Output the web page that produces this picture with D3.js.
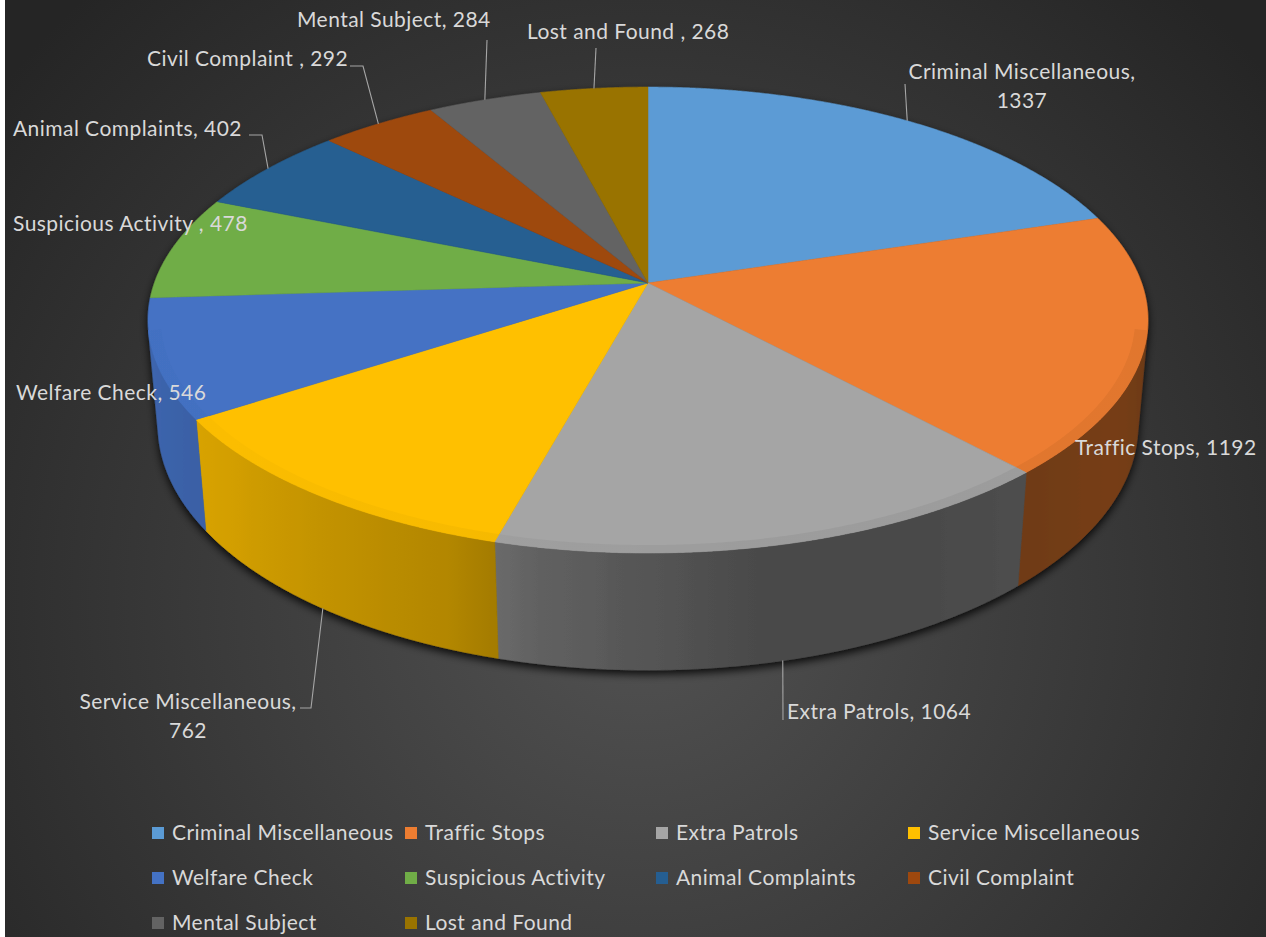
<!DOCTYPE html>
<html><head><meta charset="utf-8">
<script src="https://cdn.jsdelivr.net/npm/d3@7"></script>
<style>html,body{margin:0;padding:0;background:#fff;overflow:hidden}</style>
</head><body><svg id="c" width="1266" height="937"></svg>
<script>
// ---- data ----
const categories = ["Criminal Miscellaneous","Traffic Stops","Extra Patrols","Service Miscellaneous","Welfare Check","Suspicious Activity ","Animal Complaints","Civil Complaint ","Mental Subject","Lost and Found "];
const values = [1337,1192,1064,762,546,478,402,292,284,268];
const colors = ["#5B9BD5","#ED7D31","#A5A5A5","#FFC000","#4472C4","#70AD47","#255E91","#9E480E","#636363","#997300"];

// ---- layout ----
const W = 1266, H = 937;
const FONT = "Lato, 'Open Sans', sans-serif";
const FS = 21;
const LS = 0.45;
const TXT = "#d9d9d9";
const P = {cx:648, cy:283, F:2757, D:5.585, s:0.46, c:0.888, t:0.242};
const labelLayout = [
  {x:1022, y:79, anchor:"middle", wrap:true, leader:[[905,84]], edge:"top"},
  {x:1075, y:455, anchor:"start"},
  {x:787, y:719, anchor:"start", leader:[[783,720]], edge:"bottom"},
  {x:188, y:709, anchor:"middle", wrap:true, leader:[[300,708],[311,708]], edge:"bottom"},
  {x:16, y:400, anchor:"start"},
  {x:13, y:231, anchor:"start"},
  {x:13, y:136, anchor:"start", leader:[[249,135],[262,135]], edge:"top"},
  {x:147, y:66, anchor:"start", leader:[[350,66],[363,66]], edge:"top"},
  {x:297, y:27, anchor:"start", leader:[[487,40]], edge:"top"},
  {x:527, y:39, anchor:"start", leader:[[596,48]], edge:"top"}
];
const legendCols = [152, 405, 656, 908];
const legendRows = [833, 878, 923];

const svg = d3.select("#c");
const defs = svg.append("defs");
const rg = defs.append("radialGradient").attr("id","bg").attr("gradientUnits","userSpaceOnUse")
  .attr("cx",640).attr("cy",600).attr("r",820);
rg.append("stop").attr("offset",0).attr("stop-color","#525252");
rg.append("stop").attr("offset",1).attr("stop-color","#252525");
const f = defs.append("filter").attr("id","sh").attr("x","-10%").attr("y","-10%").attr("width","120%").attr("height","130%");
f.append("feDropShadow").attr("dx",0).attr("dy",4).attr("stdDeviation",4.5).attr("flood-color","#000").attr("flood-opacity",0.85);

svg.append("rect").attr("width",W).attr("height",H).attr("fill","#fff");
svg.append("rect").attr("x",5).attr("width",W-5).attr("height",H).attr("fill","url(#bg)");

function proj(phi, r, h){
  const x = r*Math.sin(phi), z = -r*Math.cos(phi), y = h;
  const d = P.D - y*P.s - z*P.c;
  return [P.cx + P.F*x/d, P.cy - P.F*(y*P.c - z*P.s)/d];
}
const pie = d3.pie().sort(null).value(d=>d).startAngle(0).endAngle(2*Math.PI);
const arcs = pie(values);
const STEP = Math.PI/720;
function samples(a0,a1){
  const n = Math.max(1, Math.ceil((a1-a0)/STEP));
  return d3.range(n+1).map(i=>a0+(a1-a0)*i/n);
}
const line = d3.line();
const g = svg.append("g").attr("filter","url(#sh)");

const shade = d3.scaleLinear().domain([102,120,150,170,190,200,230,258]).range([0.45,0.5,0.45,0.45,0.58,0.7,0.83,0.9]).clamp(true);
const darken = (col, k) => d3.interpolateRgb("#000", col)(k);
const vis = Math.acos(-1/(P.D*P.c));
const sideG = g.append("g");
const topG = g.append("g");
const bevG = g.append("g");

arcs.forEach((a,i)=>{
  const pts = [proj(0,0,0)].concat(samples(a.startAngle,a.endAngle).map(p=>proj(p,1,0)));
  topG.append("path").attr("d", line(pts)+"Z").attr("fill", colors[i]).attr("stroke", colors[i]).attr("stroke-width",0.5);

  const a0 = Math.max(a.startAngle, vis), a1 = Math.min(a.endAngle, 2*Math.PI-vis);
  if (a1 <= a0) return;
  const ss = samples(a0,a1);
  const x1 = proj(a0,1,0)[0], x2 = proj(a1,1,0)[0];
  const gid = "sg"+i, bid = "bv"+i;
  const lgd = defs.append("linearGradient").attr("id",gid).attr("gradientUnits","userSpaceOnUse")
    .attr("x1",x1).attr("x2",x2).attr("y1",0).attr("y2",0);
  const bgd = defs.append("linearGradient").attr("id",bid).attr("gradientUnits","userSpaceOnUse")
    .attr("x1",x1).attr("x2",x2).attr("y1",0).attr("y2",0);
  ss.filter((_,k)=>k%4===0 || k===ss.length-1).forEach(p=>{
    const off = (proj(p,1,0)[0]-x1)/(x2-x1);
    const k = shade(p*180/Math.PI);
    lgd.append("stop").attr("offset",off).attr("stop-color",darken(colors[i],k));
    bgd.append("stop").attr("offset",off).attr("stop-color",darken(colors[i],1-(1-k)*0.12));
  });
  const sidePts = ss.map(p=>proj(p,1,0)).concat(ss.slice().reverse().map(p=>proj(p,1,-P.t)));
  sideG.append("path").attr("d", line(sidePts)+"Z").attr("fill","url(#"+gid+")").attr("stroke","url(#"+gid+")").attr("stroke-width",0.6);
  const bevPts = ss.map(p=>proj(p,1,0)).concat(ss.slice().reverse().map(p=>proj(p,0.975,0)));
  bevG.append("path").attr("d", line(bevPts)+"Z").attr("fill","url(#"+bid+")").attr("opacity",0.8);
});

// labels
const lg = svg.append("g").attr("font-family",FONT).attr("font-size",FS).attr("letter-spacing",LS).attr("fill",TXT);
arcs.forEach((a,i)=>{
  const L = labelLayout[i];
  const mid = (a.startAngle+a.endAngle)/2;
  if (L.leader){
    const end = L.edge==="top" ? proj(mid,1,0) : proj(mid,1,-P.t);
    svg.append("path").attr("d", line(L.leader.concat([end]))).attr("fill","none")
      .attr("stroke","#a6a6a6").attr("stroke-width",1.1);
  }
  const name = categories[i];
  const t = lg.append("text").attr("x",L.x).attr("y",L.y).attr("text-anchor",L.anchor);
  if (L.wrap){
    t.append("tspan").attr("x",L.x).text(name+",");
    t.append("tspan").attr("x",L.x).attr("dy",29).text(values[i]);
  } else {
    t.text(name+", "+values[i]);
  }
});

// legend
const leg = svg.append("g").attr("font-family",FONT).attr("font-size",FS).attr("letter-spacing",LS).attr("fill",TXT);
categories.forEach((c,i)=>{
  const x = legendCols[i%4], y = legendRows[Math.floor(i/4)];
  leg.append("rect").attr("x",x).attr("y",y-6).attr("width",12).attr("height",12).attr("fill",colors[i]);
  leg.append("text").attr("x",x+20).attr("y",y).attr("dy","0.35em").text(c.trim());
});
</script></body></html>
